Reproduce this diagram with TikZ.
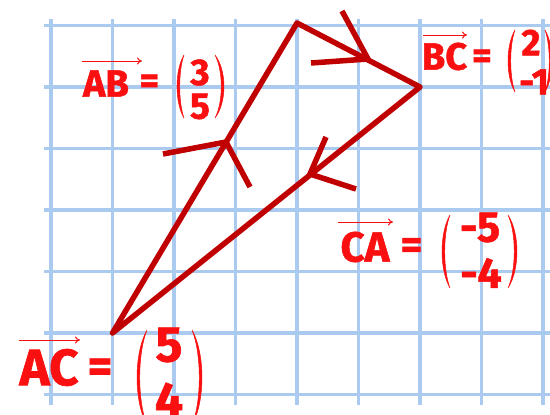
\documentclass[tikz,border=0pt]{standalone}
\usepackage{fontspec}
\usetikzlibrary{arrows.meta}
\newfontfamily\labfont{Fira Sans}[BoldFeatures={FakeBold=1.3}]
\definecolor{gridblue}{RGB}{170,202,240}
\definecolor{tri}{RGB}{192,0,0}
\definecolor{labc}{RGB}{250,16,16}
\newcommand\myLP[4]{\begin{scope}[shift={(#1,#2)}]
 \filldraw[labc,line width=0.5pt] (0,0) .. controls (-1.33*#4,0.25*#3) and (-1.33*#4,0.75*#3) .. (0,#3)
   .. controls (-1.33*#4+3.6,0.75*#3) and (-1.33*#4+3.6,0.25*#3) .. (0,0) -- cycle;
 \end{scope}}
\newcommand\myRP[4]{\begin{scope}[shift={(#1,#2)}]
 \filldraw[labc,line width=0.5pt] (0,0) .. controls (1.33*#4,0.25*#3) and (1.33*#4,0.75*#3) .. (0,#3)
   .. controls (1.33*#4-3.6,0.75*#3) and (1.33*#4-3.6,0.25*#3) .. (0,0) -- cycle;
 \end{scope}}
\begin{document}
\begin{tikzpicture}[x=1pt,y=-1pt,
  gridline/.style={gridblue,line width=3.2pt},
  side/.style={tri,line width=5.5pt,line cap=round,line join=round},
  barb/.style={tri,line width=5.5pt,line cap=butt},
  lab/.style={labc,inner sep=0pt,font=\labfont\bfseries},
  over/.style={labc,line width=1pt,-{To[length=5pt,width=7pt]}}]
\useasboundingbox (0,0) rectangle (550,415);
\fill[white] (0,0) rectangle (550,415);
\begin{scope}
\clip (0,0) rectangle (550,415);
% grid
\foreach \k in {0,...,8} \draw[gridline] (51+61.5*\k,19) -- (51+61.5*\k,405);
\foreach \k in {0,...,6} \draw[gridline] (44,25.5+61.5*\k) -- (552,25.5+61.5*\k);
% triangle
\coordinate (A) at (112.5,333);
\coordinate (B) at (297,23);
\coordinate (C) at (420,87);
\draw[side] (A) -- (B) -- (C) -- cycle;
% direction marks
\coordinate (mAB) at (226,142);
\coordinate (mAB1) at (163,154);
\coordinate (mAB2) at (250,187);
\draw[barb] (mAB1) -- (mAB) -- (mAB2);
\coordinate (mBC) at (368,59);
\coordinate (mBC1) at (342,11);
\coordinate (mBC2) at (311,63);
\draw[barb] (mBC1) -- (mBC) -- (mBC2);
\coordinate (mCA) at (310,174);
\coordinate (mCA1) at (326,137);
\coordinate (mCA2) at (356,189);
\draw[barb] (mCA1) -- (mCA) -- (mCA2);
% AB label
\node[lab,font=\labfont\bfseries\fontsize{38}{38}\selectfont] (ABt) at (106,83.5) {AB};
\coordinate (ABa1) at (82,61); \coordinate (ABa2) at (142,61);
\draw[over] (ABa1) -- (ABa2);
\node[lab,font=\labfont\bfseries\fontsize{38}{38}\selectfont] (ABeq) at (149.5,84) {=};
\node[lab,font=\labfont\bfseries\fontsize{37}{37}\selectfont] (ABx) at (200,72.5) {3};
\node[lab,font=\labfont\bfseries\fontsize{37}{37}\selectfont] (ABy) at (200,106.5) {5};
\myLP{184}{55}{63}{7}
\myRP{215}{55}{63}{9}
% BC label
\node[lab,font=\labfont\bfseries\fontsize{38}{38}\selectfont] (BCt) at (444.5,56.5) {BC};
\coordinate (BCa1) at (423,35); \coordinate (BCa2) at (467,35);
\draw[over] (BCa1) -- (BCa2);
\node[lab,font=\labfont\bfseries\fontsize{38}{38}\selectfont] (BCeq) at (482,59) {=};
\node[lab,font=\labfont\bfseries\fontsize{37}{37}\selectfont] (BCx) at (531,42.5) {2};
\node[lab,font=\labfont\bfseries\fontsize{37}{37}\selectfont] (BCy) at (534,82) {-1};
\myLP{515}{30}{62}{7}
\myRP{545}{30}{62}{7}
% CA label
\node[lab,font=\labfont\bfseries\fontsize{42}{42}\selectfont] (CAt) at (365,247) {CA};
\coordinate (CAa1) at (338,222); \coordinate (CAa2) at (393,222);
\draw[over] (CAa1) -- (CAa2);
\node[lab,font=\labfont\bfseries\fontsize{42}{42}\selectfont] (CAeq) at (411.5,248.5) {=};
\node[lab,font=\labfont\bfseries\fontsize{43}{43}\selectfont] (CAx) at (480,227.5) {-5};
\node[lab,font=\labfont\bfseries\fontsize{43}{43}\selectfont] (CAy) at (481,273) {-4};
\myLP{450}{215}{73}{8}
\myRP{508}{215}{73}{9}
% AC label
\node[lab,font=\labfont\bfseries\fontsize{51}{51}\selectfont] (ACt) at (49,367.5) {AC};
\coordinate (ACa1) at (19,340); \coordinate (ACa2) at (80,340);
\draw[over] (ACa1) -- (ACa2);
\node[lab,font=\labfont\bfseries\fontsize{48}{48}\selectfont] (ACeq) at (100,370.5) {=};
\node[lab,font=\labfont\bfseries\fontsize{50}{50}\selectfont] (ACx) at (169,345) {5};
\node[lab,font=\labfont\bfseries\fontsize{50}{50}\selectfont] (ACy) at (169,400) {4};
\myLP{147}{330}{95}{10}
\myRP{192}{330}{95}{10}
\end{scope}
\end{tikzpicture}
\end{document}
